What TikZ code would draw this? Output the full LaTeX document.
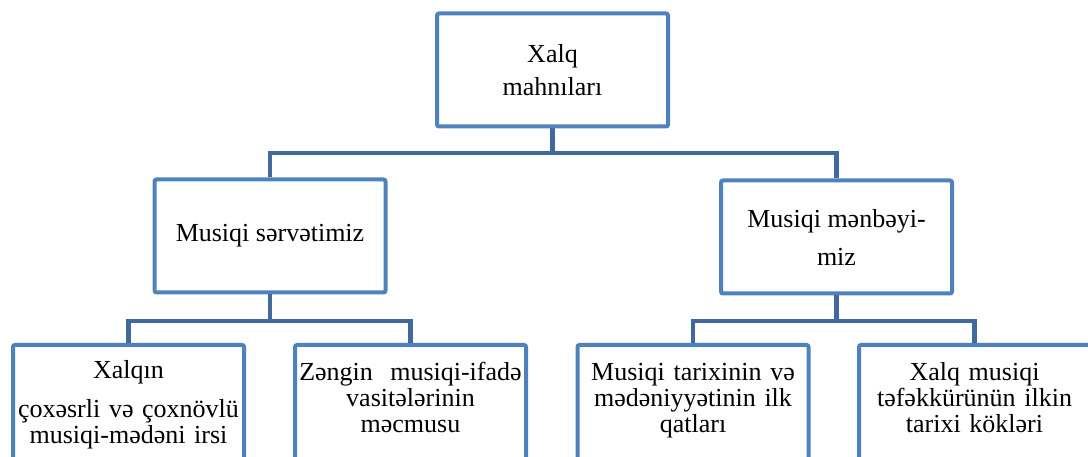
\documentclass[tikz,border=0pt]{standalone}
\usepackage{fontspec}
\setmainfont{Liberation Serif}
\definecolor{boxblue}{HTML}{4F81BD}
\definecolor{linkblue}{HTML}{41699C}

\begin{document}
\begin{tikzpicture}[x=1pt,y=-1pt,
  box/.style={draw=boxblue, line width=4pt, fill=white, rounded corners=2pt,
    minimum width=231pt, minimum height=113pt, inner sep=0pt, outer sep=2pt,
    align=center, font=\fontsize{26}{26}\selectfont},
  leaf/.style={box, minimum height=180pt},
  leaftext/.style={font=\fontsize{26}{26}\selectfont, text width=240pt,
    align=center, inner sep=0pt, anchor=base},
  conn/.style={draw=linkblue, line width=4.5pt}]
\useasboundingbox (0,0) rectangle (1088,457);
\clip (0,0) rectangle (1088,457);

% top
\node[box, font=\fontsize{26}{33}\selectfont] (root) at (552.5,70) {Xalq\\mahnıları};

% second row
\node[box] (ml) at (270,236) {Musiqi sərvətimiz};
\node[box, font=\fontsize{26}{38}\selectfont] (mr) at (836.5,237) {Musiqi mənbəyi-\\miz};

% bottom row
\node[leaf] (leaf1) at (128.5,435) {};
\node[leaf] (leaf2) at (410.5,435) {};
\node[leaf] (leaf3) at (693,435) {};
\node[leaf] (leaf4) at (974.5,435) {};
\node[leaftext] (t1) at (128.5,378) {Xalqın\\[13pt]çoxəsrli və çoxnövlü\\musiqi-mədəni irsi};
\node[leaftext] (t2) at (410.5,380) {Zəngin\ \ musiqi-ifadə\\vasitələrinin\\məcmusu};
\node[leaftext] (t3) at (693,380) {Musiqi tarixinin və\\mədəniyyətinin ilk\\qatları};
\node[leaftext] (t4) at (974.5,380) {Xalq musiqi\\təfəkkürünün ilkin\\tarixi kökləri};

% connectors
\coordinate (bus0) at (552.5,153);
\coordinate (bus1) at (270,321);
\coordinate (bus2) at (836.5,321);
\draw[conn] (root.south) -- (bus0);
\draw[conn] (ml.north) |- (bus0) -| (mr.north);
\draw[conn] (ml.south) -- (bus1);
\draw[conn] (leaf1.north) |- (bus1) -| (leaf2.north);
\draw[conn] (mr.south) -- (bus2);
\draw[conn] (leaf3.north) |- (bus2) -| (leaf4.north);
\end{tikzpicture}
\end{document}
